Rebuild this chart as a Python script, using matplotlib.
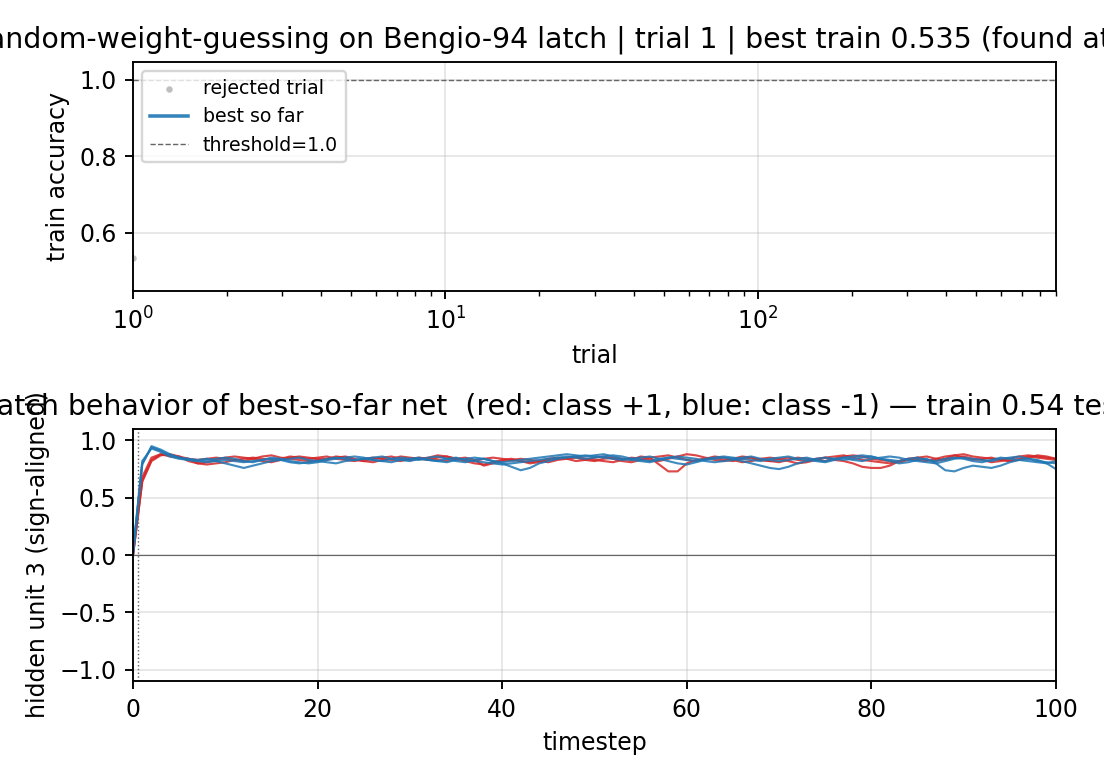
import numpy as np
import matplotlib
matplotlib.use("Agg")
import matplotlib.pyplot as plt

# top panel: one random trial so far
trials = [1]
trial_acc = [0.535]
best_acc = [0.535]
threshold = 1.0
n_budget = 900

# bottom panel: hidden unit 3 traces (values x100), class +1 (red) and class -1 (blue)
red_traces = [
    "0 65 83 88 86 85 84 80 79 80 81 83 84 85 84 83 84 86 85 84 "
    "85 86 84 83 82 84 85 84 83 82 84 85 84 83 82 84 85 83 78 80 "
    "82 83 84 83 82 81 83 84 85 83 82 84 85 84 83 86 85 79 73 73 "
    "80 83 84 85 83 82 84 85 83 82 84 85 83 82 84 85 83 82 80 77 "
    "76 76 78 82 84 85 83 82 84 87 88 86 85 84 83 82 84 86 85 84 83",
    "0 68 85 88 87 86 82 80 81 83 85 86 85 84 82 81 83 85 86 85 "
    "84 83 85 86 84 82 81 83 84 86 85 84 83 85 86 84 83 82 84 85 "
    "84 83 82 80 81 83 84 85 86 84 83 82 81 83 85 84 83 82 84 86 "
    "88 87 85 83 82 84 86 85 83 82 81 83 85 84 83 82 84 86 87 86 "
    "84 83 82 81 83 85 86 84 83 85 86 84 83 81 82 84 86 87 86 85 84",
    "0 64 82 87 88 86 84 83 84 85 84 83 82 84 86 87 85 84 83 82 "
    "83 84 86 85 83 82 84 85 86 84 83 84 85 87 86 84 82 80 79 81 "
    "83 84 82 81 82 84 85 84 82 83 85 86 84 82 81 83 85 86 87 85 "
    "83 82 84 86 85 83 81 82 84 85 84 82 80 81 83 85 86 87 85 83 "
    "82 81 80 82 84 83 82 84 86 87 85 83 84 85 83 82 83 85 87 86 84",
]
blue_traces = [
    "2 80 94 91 87 85 84 83 84 82 80 78 76 78 80 82 83 81 80 81 "
    "82 84 85 84 83 84 85 86 84 83 82 84 83 82 81 83 84 85 84 82 "
    "80 77 74 76 80 82 84 85 86 87 86 85 84 83 84 85 86 84 82 80 "
    "79 81 83 84 85 84 82 80 78 76 75 77 80 82 84 85 84 83 84 85 "
    "86 84 82 80 81 83 84 80 74 73 76 78 77 76 78 81 83 84 83 80 75",
    "3 82 93 90 86 84 83 82 83 84 85 84 82 81 83 85 84 82 81 80 "
    "81 83 84 85 86 85 83 82 84 85 84 83 85 86 84 82 81 83 84 82 "
    "81 82 83 84 85 86 87 88 87 86 87 88 86 84 83 82 81 83 85 84 "
    "83 82 84 85 86 85 84 83 82 84 85 86 84 83 82 81 83 85 86 87 "
    "86 84 83 82 84 85 83 82 84 85 84 82 81 83 85 84 83 82 81 80 82",
    "1 79 95 92 88 85 83 82 81 82 83 82 81 82 83 84 83 84 85 83 "
    "82 81 80 82 83 84 83 82 81 83 84 85 83 82 84 85 83 82 81 80 "
    "79 80 81 82 83 84 85 86 85 84 85 86 87 86 84 83 82 84 85 86 "
    "85 84 82 81 82 83 85 86 84 83 82 83 84 85 83 82 84 85 83 82 "
    "84 85 86 85 83 82 81 80 82 84 85 84 83 82 84 85 86 84 82 81 80",
]

DPI = 170
fig = plt.figure(figsize=(1104 / DPI, 780 / DPI), dpi=DPI)
ax1 = fig.add_axes([0.1205, 0.6269, 0.836, 0.2936])
ax2 = fig.add_axes([0.1205, 0.1269, 0.836, 0.3231])

# --- top: accuracy per trial ---
ax1.scatter(trials, trial_acc, s=3, color="0.75", label="rejected trial", zorder=2)
ax1.plot(trials, best_acc, color="#1f77b4", lw=1.5, alpha=0.9, label="best so far")
ax1.axhline(threshold, color="0.4", ls="--", lw=0.6, label="threshold=1.0")
ax1.set_xscale("log")
ax1.set_xlim(1, n_budget)
ax1.set_ylim(0.448, 1.047)
ax1.set_xlabel("trial")
ax1.set_ylabel("train accuracy")
ax1.grid(True, alpha=0.3)
ax1.legend(loc="upper left", fontsize=8)
ax1.set_title("random-weight-guessing on Bengio-94 latch | trial 1 | best train 0.535 (found at trial 1)")

# --- bottom: latch behaviour ---
for s in red_traces:
    y = np.array(s.split(), dtype=float) / 100
    ax2.plot(np.arange(len(y)), y, color="#d62728", lw=0.9, alpha=0.85)
for s in blue_traces:
    y = np.array(s.split(), dtype=float) / 100
    ax2.plot(np.arange(len(y)), y, color="#1f77b4", lw=0.9, alpha=0.85)
ax2.axhline(0, color="0.4", lw=0.5)
ax2.axvline(0.5, color="0.4", ls=":", lw=0.6)
ax2.set_xlim(0, 100)
ax2.set_ylim(-1.1, 1.1)
ax2.set_xlabel("timestep")
ax2.set_ylabel("hidden unit 3 (sign-aligned)")
ax2.grid(True, alpha=0.3)
ax2.set_title("latch behavior of best-so-far net  (red: class +1, blue: class -1) \u2014 train 0.54 test 0.50")

fig.savefig("out.png", dpi=DPI)
